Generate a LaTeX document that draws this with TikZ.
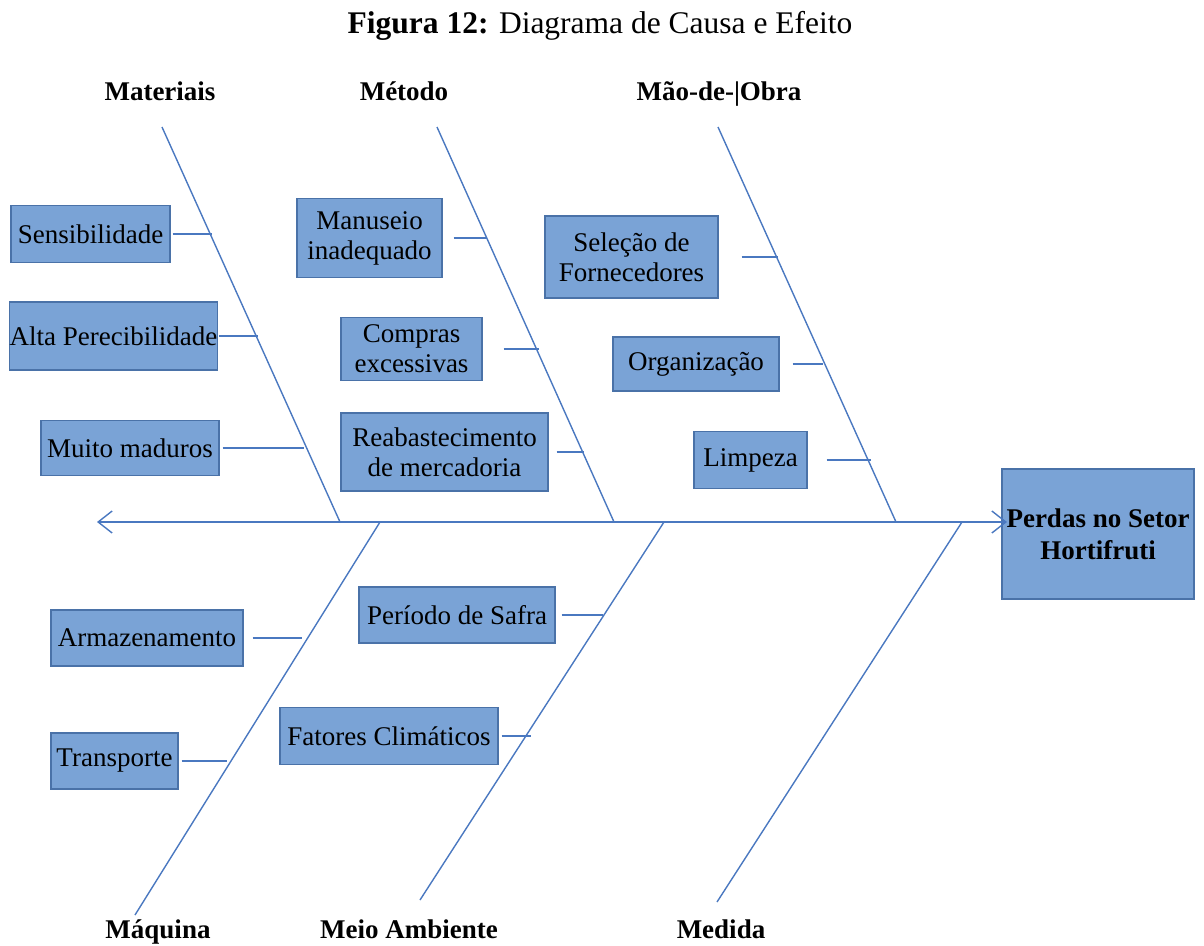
\documentclass[tikz,border=0pt]{standalone}
\usepackage{fontspec}
\setmainfont{Liberation Serif}
\usetikzlibrary{arrows.meta}
\definecolor{boxfill}{HTML}{7AA3D6}
\definecolor{boxline}{HTML}{4A72A8}
\definecolor{bonecol}{HTML}{4A78C0}
\begin{document}
\begin{tikzpicture}[x=1pt,y=-1pt,
  cause/.style={draw=boxline,fill=boxfill,line width=1.2pt,inner sep=0pt,align=center,
    font=\fontsize{27}{30}\selectfont},
  bonelabel/.style={inner sep=0pt,anchor=base,font=\fontsize{27}{30}\selectfont\bfseries},
  boneline/.style={draw=bonecol,line width=1.4pt},
  tick/.style={draw=bonecol,line width=1.4pt},
  barb/.tip={Straight Barb[length=14pt,width=22pt,line width=1.4pt]},
]
\useasboundingbox (0,0) rectangle (1204,945);

% title
\node[inner sep=0pt,anchor=base,font=\fontsize{31.5}{34}\selectfont] (title) at (600,33) {\textbf{Figura 12:} Diagrama de Causa e Efeito};

% effect
\node[cause,minimum width=192pt,minimum height=130pt,font=\fontsize{27}{32}\selectfont\bfseries] (eff) at (1098,534) {Perdas no Setor\\Hortifruti};

% spine
\coordinate (spineL) at (97,522);
\coordinate (spineR) at (1007,522);
\draw[boneline,barb-barb] (spineL) -- (spineR);

% bones
\coordinate (matTop) at (162,127);  \coordinate (matBot) at (340,522);
\coordinate (metTop) at (437,127);  \coordinate (metBot) at (614,522);
\coordinate (maoTop) at (718,127);  \coordinate (maoBot) at (896,522);
\coordinate (maqTop) at (380,522);  \coordinate (maqBot) at (135,915);
\coordinate (meiTop) at (664,522);  \coordinate (meiBot) at (420,900);
\coordinate (medTop) at (962,522);  \coordinate (medBot) at (717,902);
\draw[boneline] (matTop) -- (matBot);
\draw[boneline] (metTop) -- (metBot);
\draw[boneline] (maoTop) -- (maoBot);
\draw[boneline] (maqTop) -- (maqBot);
\draw[boneline] (meiTop) -- (meiBot);
\draw[boneline] (medTop) -- (medBot);

% bone labels
\node[bonelabel] (lmat) at (160,100) {Materiais};
\node[bonelabel] (lmet) at (404,100) {Método};
\node[bonelabel] (lmao) at (719,100) {Mão-de-|Obra};
\node[bonelabel] (lmaq) at (158,938) {Máquina};
\node[bonelabel] (lmei) at (409,938) {Meio Ambiente};
\node[bonelabel] (lmed) at (721,938) {Medida};

% causes
\node[cause,minimum width=159pt,minimum height=57pt] (sens) at (90.5,234) {Sensibilidade};
\node[cause,minimum width=205pt,minimum height=68pt] (alta) at (113.5,336) {Alta Perecibilidade};
\node[cause,minimum width=178pt,minimum height=55pt] (muito) at (130,448) {Muito maduros};
\node[cause,minimum width=145pt,minimum height=79pt] (manu) at (369.5,238) {Manuseio\\inadequado};
\node[cause,minimum width=141pt,minimum height=63pt] (comp) at (411.5,349) {Compras\\excessivas};
\node[cause,minimum width=207pt,minimum height=78pt] (reab) at (444.5,452) {Reabastecimento\\de mercadoria};
\node[cause,minimum width=173pt,minimum height=82pt] (sele) at (631.5,257) {Seleção de\\Fornecedores};
\node[cause,minimum width=166pt,minimum height=54pt] (org) at (696,364) {Organização};
\node[cause,minimum width=113pt,minimum height=57pt] (limp) at (750.5,460) {Limpeza};
\node[cause,minimum width=192pt,minimum height=56pt] (arm) at (147,638) {Armazenamento};
\node[cause,minimum width=127pt,minimum height=56pt] (trans) at (114.5,761) {Transporte};
\node[cause,minimum width=196pt,minimum height=56pt] (safra) at (457,615) {Período de Safra};
\node[cause,minimum width=218pt,minimum height=57pt] (fat) at (389,736) {Fatores Climáticos};

% tick ends on the bones
\coordinate (sensT) at (212,234);
\coordinate (altaT) at (258,336);
\coordinate (muitoT) at (304,448);
\coordinate (manuT) at (487,238);
\coordinate (compT) at (539,349);
\coordinate (reabT) at (584,452);
\coordinate (seleT) at (778,257);
\coordinate (orgT) at (823,364);
\coordinate (limpT) at (871,460);
\coordinate (armT) at (302,638);
\coordinate (transT) at (227,761);
\coordinate (safraT) at (603,615);
\coordinate (fatT) at (531,736);

\draw[tick] ([xshift=2pt]sens.east) -- (sensT);
\draw[tick] ([xshift=1pt]alta.east) -- (altaT);
\draw[tick] ([xshift=3pt]muito.east) -- (muitoT);
\draw[tick] ([xshift=11pt]manu.east) -- (manuT);
\draw[tick] ([xshift=21pt]comp.east) -- (compT);
\draw[tick] ([xshift=8pt]reab.east) -- (reabT);
\draw[tick] ([xshift=23pt]sele.east) -- (seleT);
\draw[tick] ([xshift=13pt]org.east) -- (orgT);
\draw[tick] ([xshift=19pt]limp.east) -- (limpT);
\draw[tick] ([xshift=9pt]arm.east) -- (armT);
\draw[tick] ([xshift=3pt]trans.east) -- (transT);
\draw[tick] ([xshift=6pt]safra.east) -- (safraT);
\draw[tick] ([xshift=3pt]fat.east) -- (fatT);
\end{tikzpicture}
\end{document}
